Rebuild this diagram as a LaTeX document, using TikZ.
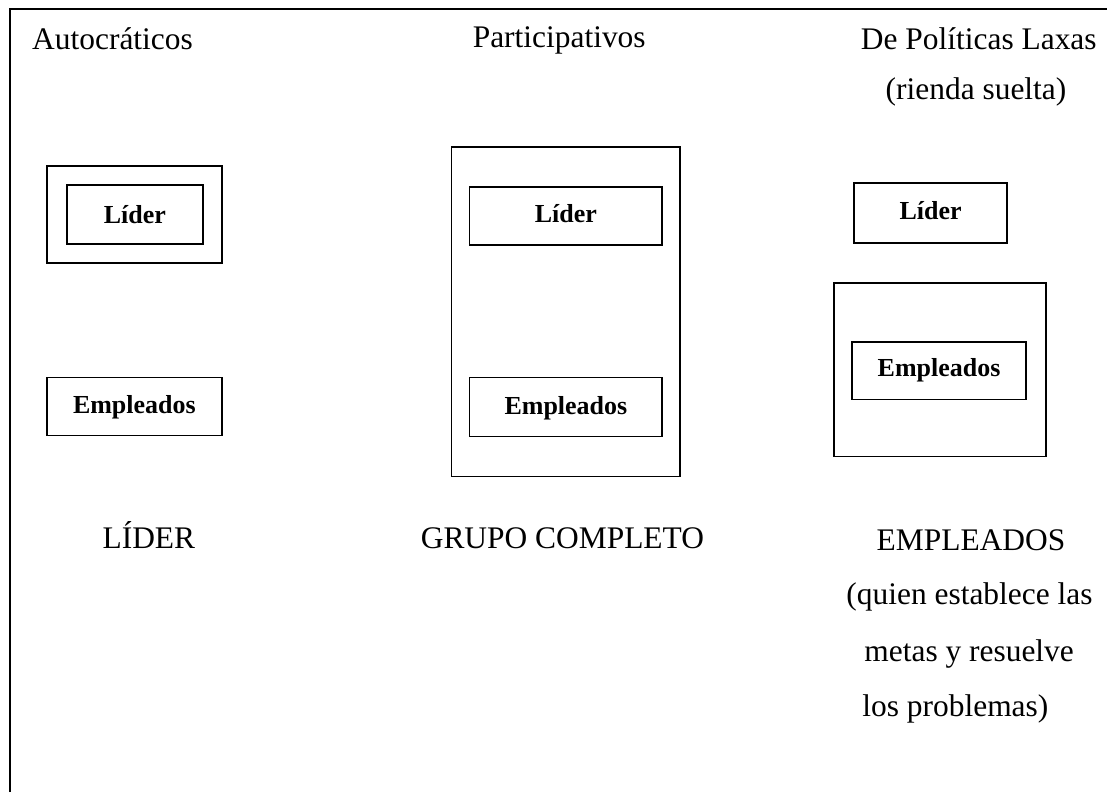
\documentclass[tikz,border=0pt]{standalone}
\usepackage{fontspec}
\setmainfont{Liberation Serif}

\begin{document}
\begin{tikzpicture}[x=0.75pt,y=0.75pt,yscale=-1,xscale=1,
  texto/.style={font=\fontsize{23.6}{28}\selectfont, inner sep=0pt},
  rotulo/.style={font=\fontsize{19.5}{23}\selectfont\bfseries, inner sep=0pt, anchor=base},
  caja/.style={line width=1.3pt}]
\path (0,0) rectangle (1108,793); %set diagram size to the reference

%Straight Lines: frame
\draw [line width=1.7pt]  (10,793) -- (10,9) -- (1108,9) ;

%Shape: Rectangle (autocraticos, outer)
\draw [caja]  (47,166) -- (222,166) -- (222,263) -- (47,263) -- cycle ;
%Shape: Rectangle (autocraticos, lider)
\draw [caja]  (67,185) -- (203,185) -- (203,244) -- (67,244) -- cycle ;
%Shape: Rectangle (autocraticos, empleados)
\draw [caja]  (47,378) -- (222,378) -- (222,436) -- (47,436) -- cycle ;

%Shape: Rectangle (participativos, outer)
\draw [caja]  (452,147) -- (681,147) -- (681,477) -- (452,477) -- cycle ;
%Shape: Rectangle (participativos, lider)
\draw [caja]  (470,187) -- (663,187) -- (663,245) -- (470,245) -- cycle ;
%Shape: Rectangle (participativos, empleados)
\draw [caja]  (470,378) -- (663,378) -- (663,437) -- (470,437) -- cycle ;

%Shape: Rectangle (laxas, lider)
\draw [caja]  (855,183) -- (1008,183) -- (1008,243) -- (855,243) -- cycle ;
%Shape: Rectangle (laxas, outer)
\draw [caja]  (835,283) -- (1047,283) -- (1047,457) -- (835,457) -- cycle ;
%Shape: Rectangle (laxas, empleados)
\draw [caja]  (853,342) -- (1027,342) -- (1027,400) -- (853,400) -- cycle ;

% Text Node
\node (tAuto) [texto, anchor=base west] at (32,50) {Autocráticos};
% Text Node
\node (tPart) [texto, anchor=base west] at (473,48) {Participativos};
% Text Node
\node (tLax) [texto, anchor=base east] at (1098,50) {De Políticas Laxas};
% Text Node
\node (tLax2) [texto, anchor=base] at (977,100) {(rienda suelta)};

% Text Node
\node (liderA) [rotulo] at (135,224) {Líder};
% Text Node
\node (empA) [rotulo] at (134.5,414) {Empleados};
% Text Node
\node (liderP) [rotulo] at (566.5,223) {Líder};
% Text Node
\node (empP) [rotulo] at (566.5,415) {Empleados};
% Text Node
\node (liderL) [rotulo] at (931.5,220) {Líder};
% Text Node
\node (empL) [rotulo] at (940,377) {Empleados};

% Text Node
\node (quienA) [texto, anchor=base] at (149,549) {LÍDER};
% Text Node
\node (quienP) [texto, anchor=base] at (563,549) {GRUPO COMPLETO};
% Text Node
\node (quienL) [texto, anchor=base] at (972,551) {EMPLEADOS};
% Text Node
\node (quienL2) [texto, anchor=base west] at (847,605) {(quien establece las};
% Text Node
\node (quienL3) [texto, anchor=base west] at (865,662) {metas y resuelve};
% Text Node
\node (quienL4) [texto, anchor=base west] at (863,717) {los problemas)};
\end{tikzpicture}
\end{document}
